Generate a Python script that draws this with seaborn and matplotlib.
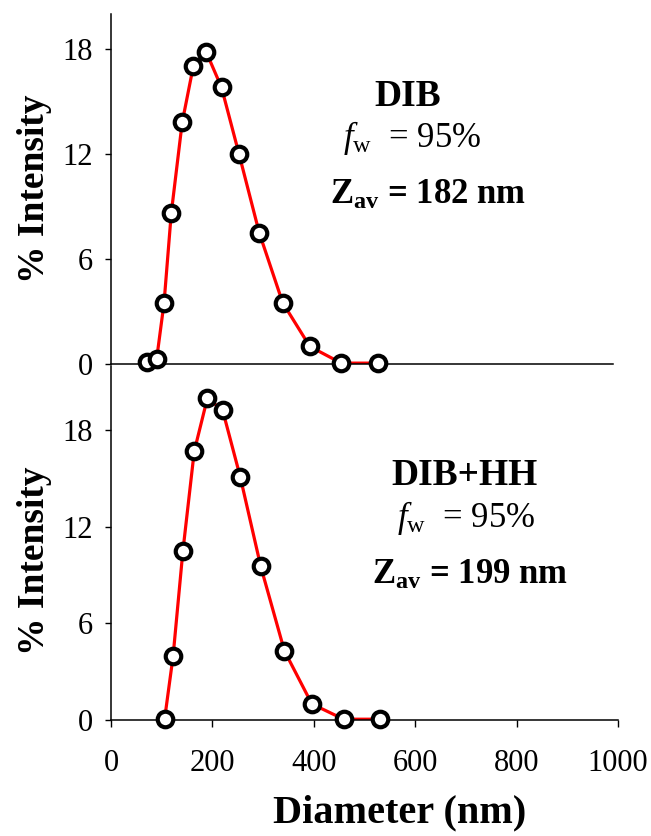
import matplotlib
matplotlib.use("Agg")
import matplotlib.pyplot as plt
import seaborn as sns
import pandas as pd

# ---- data ----
dib_diameter = [72, 91, 105.7, 120, 141.8, 164.2, 190.1, 220.2, 255.0, 295.3, 342.0, 396.1, 458.7, 531.2]
dib_intensity = [0.1, 0.3, 3.5, 8.6, 13.8, 17.05, 17.8, 15.8, 12.0, 7.5, 3.5, 1.0, 0.05, 0.05]

hh_diameter = [105.7, 122.4, 141.8, 164.2, 190.1, 220.2, 255.0, 295.3, 342.0, 396.1, 458.7, 531.2]
hh_intensity = [0.05, 3.95, 10.5, 16.7, 20.0, 19.25, 15.1, 9.55, 4.3, 1.0, 0.05, 0.05]

x_ticks = [0, 200, 400, 600, 800, 1000]
y_ticks = [0, 6, 12, 18]

sns.set_theme(style="white")
plt.rcParams['font.family'] = ['Liberation Serif', 'DejaVu Serif']
plt.rcParams['mathtext.fontset'] = 'custom'
plt.rcParams['mathtext.rm'] = 'Liberation Serif'
plt.rcParams['mathtext.it'] = 'Liberation Serif:italic'
plt.rcParams['mathtext.bf'] = 'Liberation Serif:bold'
plt.rcParams['text.color'] = 'black'
plt.rcParams['axes.labelcolor'] = 'black'
plt.rcParams['xtick.color'] = 'black'
plt.rcParams['ytick.color'] = 'black'

W, H = 651, 836
fig = plt.figure(figsize=(W / 100, H / 100), dpi=100)

def px_axes(left, top, right, bottom):
    return fig.add_axes([left / W, 1 - bottom / H, (right - left) / W, (bottom - top) / H])

ax1 = px_axes(111, 14, 613, 364)
ax2 = px_axes(111, 366, 618, 720)

df1 = pd.DataFrame({"d": dib_diameter, "i": dib_intensity})
df2 = pd.DataFrame({"d": hh_diameter, "i": hh_intensity})

for ax, df, ymax in [(ax1, df1, 20), (ax2, df2, 22)]:
    sns.lineplot(data=df, x="d", y="i", ax=ax, color="#ff0000", linewidth=2.3,
                 sort=False, errorbar=None, zorder=2)
    sns.scatterplot(data=df, x="d", y="i", ax=ax, s=125, facecolor="white",
                    edgecolor="black", linewidth=3.0, marker="o", zorder=3, clip_on=False)
    ax.set_xlim(0, 1000)
    ax.set_ylim(0, ymax)
    ax.set_yticks(y_ticks)
    ax.set_xticks(x_ticks)
    for s in ["top", "right"]:
        ax.spines[s].set_visible(False)
    for s in ["left", "bottom"]:
        ax.spines[s].set_color("black")
        ax.spines[s].set_linewidth(1.1)
    ax.tick_params(axis="y", direction="out", length=4, width=1, color="black",
                   labelsize=22, pad=9, left=True)
    ax.set_ylabel("% Intensity", fontsize=27, fontweight="bold")
    ax.set_xlabel("")
    ax.patch.set_alpha(0)

ax1.yaxis.set_label_coords(-0.118, 0.5)
ax2.yaxis.set_label_coords(-0.117, 0.45)

ax1.tick_params(axis="x", bottom=False, labelbottom=False)
ax2.tick_params(axis="x", direction="out", length=5, width=1, color="black",
                labelsize=22, pad=16, bottom=True)
ax2.set_xlabel("Diameter (nm)", fontsize=29, fontweight="bold")
ax2.xaxis.set_label_coords(0.57, -0.21)

def ftxt(x, y, s, **kw):
    fig.text(x / W, 1 - y / H, s, ha="center", va="center", **kw)

ftxt(408, 97, "DIB", fontsize=27, fontweight="bold")
ftxt(412, 138, r"$\mathit{f}_{\mathrm{w}}$  = 95%", fontsize=25)
ftxt(428, 195, r"$\mathbf{Z}_{\mathbf{av}}$ = 182 nm", fontsize=25, fontweight="bold")

ftxt(465, 475, "DIB+HH", fontsize=27, fontweight="bold")
ftxt(466, 518, r"$\mathit{f}_{\mathrm{w}}$  = 95%", fontsize=25)
ftxt(470, 575, r"$\mathbf{Z}_{\mathbf{av}}$ = 199 nm", fontsize=25, fontweight="bold")

fig.savefig("out.png", dpi=100)
